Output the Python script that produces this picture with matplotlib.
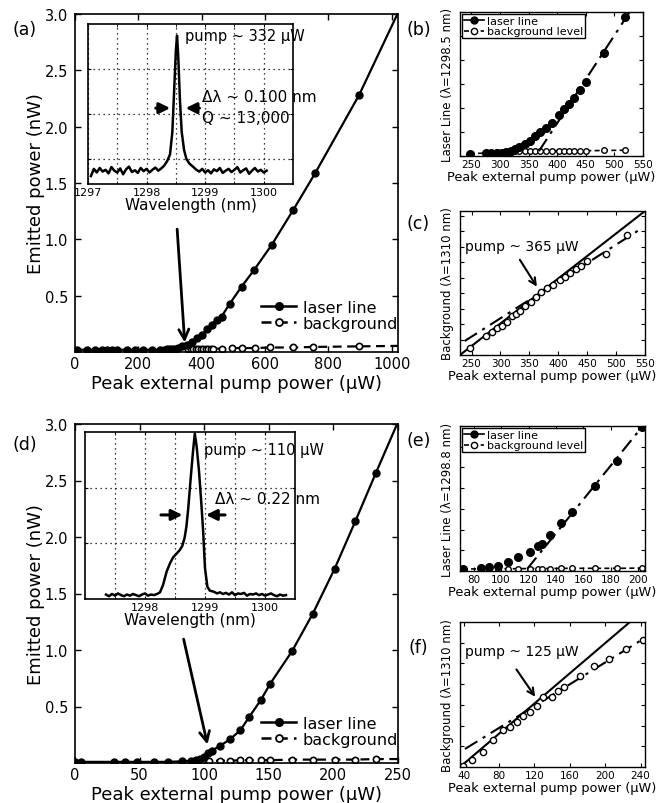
import matplotlib
matplotlib.use('Agg')
import matplotlib.pyplot as plt
from matplotlib.lines import Line2D

plt.rcParams['font.family'] = ['DejaVu Sans']

# ---------------- data ----------------
# (a) main
pump_a_laser = [5, 37, 63, 84, 100, 116, 132, 163, 189, 216, 242, 268, 280, 290, 300, 310, 318, 326,
                337, 353, 368, 384, 400, 416, 432, 447, 463, 489, 526, 566, 621, 689, 758, 897, 1030]
emit_a_laser = [0.02, 0.02, 0.02, 0.02, 0.02, 0.02, 0.02, 0.02, 0.02, 0.02, 0.02, 0.02, 0.02, 0.025,
                0.025, 0.03, 0.03, 0.035, 0.05, 0.065, 0.09, 0.12, 0.15, 0.2, 0.24, 0.285, 0.315,
                0.43, 0.58, 0.73, 0.95, 1.26, 1.585, 2.28, 3.07]
pump_a_bg = [358, 365, 373, 381, 389, 397, 405, 413, 421, 429, 437, 463, 495, 526, 568, 616, 689, 753, 897, 1040]
emit_a_bg = [0.025, 0.025, 0.025, 0.03, 0.03, 0.03, 0.03, 0.03, 0.03, 0.03, 0.03, 0.03, 0.035, 0.035,
             0.035, 0.04, 0.04, 0.045, 0.05, 0.055]

# (a) inset spectrum
wl_a = [1297.05, 1297.10, 1297.15, 1297.20, 1297.25, 1297.30, 1297.35, 1297.40, 1297.45, 1297.50,
        1297.55, 1297.60, 1297.65, 1297.70, 1297.75, 1297.80, 1297.85, 1297.90, 1297.95, 1298.00,
        1298.05, 1298.10, 1298.15, 1298.20, 1298.25, 1298.30, 1298.35, 1298.40, 1298.44, 1298.47,
        1298.50, 1298.52, 1298.54, 1298.57, 1298.60, 1298.64, 1298.68, 1298.73, 1298.80, 1298.85,
        1298.90, 1298.95, 1299.00, 1299.05, 1299.10, 1299.15, 1299.20, 1299.25, 1299.30, 1299.35,
        1299.40, 1299.45, 1299.50, 1299.55, 1299.60, 1299.65, 1299.70, 1299.75, 1299.80, 1299.85,
        1299.90, 1299.95, 1300.00, 1300.05]
spec_a = [0.62, 0.78, 0.70, 0.80, 0.72, 0.76, 0.68, 0.82, 0.74, 0.70, 0.79, 0.66, 0.77, 0.83, 0.71,
          0.75, 0.69, 0.80, 0.73, 0.78, 0.70, 0.76, 0.81, 0.74, 0.79, 0.85, 0.95, 1.10,
          1.6, 2.5, 3.4, 3.74, 3.3, 2.3, 1.6, 1.2, 1.0, 0.9,
          0.82, 0.76, 0.72, 0.78, 0.70, 0.75, 0.68, 0.77, 0.73, 0.80, 0.69, 0.74, 0.78, 0.71, 0.76,
          0.82, 0.70, 0.75, 0.79, 0.67, 0.74, 0.80, 0.72, 0.76, 0.70, 0.74]

# (b) / (c)
pump_bc = [247, 275, 285, 294, 303, 311, 320, 327, 334, 343, 352, 361, 370, 380, 391, 403, 412, 421,
           430, 440, 450, 482, 518]
laser_b = [0.08, 0.12, 0.12, 0.13, 0.14, 0.16, 0.2, 0.29, 0.36, 0.5, 0.64, 0.82, 0.99, 1.15, 1.38,
           1.72, 1.95, 2.15, 2.4, 2.75, 3.1, 4.29, 5.78]
bg_b = [0.1, 0.12, 0.14, 0.15, 0.16, 0.17, 0.18, 0.2, 0.2, 0.2, 0.21, 0.21, 0.21, 0.21, 0.22, 0.22,
        0.22, 0.22, 0.22, 0.22, 0.22, 0.23, 0.24]
fit_b_x = [368, 528]
fit_b_y = [0.2, 6.05]
bg_c = [0.45, 1.25, 1.5, 1.74, 1.89, 2.15, 2.5, 2.65, 2.86, 3.18, 3.42, 3.76, 4.08, 4.32, 4.5, 4.84,
        5.05, 5.27, 5.55, 5.76, 6.04, 6.5, 7.76]
fit_c_solid_x = [230, 550]
fit_c_solid_y = [0.0, 9.3]
fit_c_dd_x = [238, 541]
fit_c_dd_y = [0.9, 8.1]

# (d) main
pump_d_laser = [0, 5, 30, 39, 48, 61, 72, 83, 90, 94, 97, 100, 103, 106, 112, 120, 128, 135, 144, 151,
                168, 184, 201, 217, 233, 255]
emit_d_laser = [0.01, 0.01, 0.01, 0.01, 0.01, 0.01, 0.01, 0.015, 0.02, 0.025, 0.035, 0.05, 0.085, 0.11,
                0.15, 0.21, 0.29, 0.41, 0.56, 0.70, 0.99, 1.32, 1.72, 2.14, 2.57, 3.15]
pump_d_bg = [98, 104, 112, 120, 128, 135, 144, 151, 168, 184, 201, 217, 233, 262]
emit_d_bg = [0.02, 0.02, 0.02, 0.02, 0.025, 0.025, 0.025, 0.025, 0.03, 0.03, 0.03, 0.03, 0.035, 0.035]

# (d) inset spectrum
wl_d = [1297.35, 1297.40, 1297.45, 1297.50, 1297.55, 1297.60, 1297.65, 1297.70, 1297.75, 1297.80,
        1297.85, 1297.90, 1297.95, 1298.00, 1298.05, 1298.10, 1298.15, 1298.20,
        1298.25, 1298.30, 1298.36, 1298.42, 1298.47, 1298.53, 1298.58, 1298.62, 1298.66, 1298.69,
        1298.72, 1298.76, 1298.80, 1298.83, 1298.86, 1298.90, 1298.94, 1298.97, 1299.00, 1299.04,
        1299.08,
        1299.15, 1299.20, 1299.25, 1299.30, 1299.35, 1299.40, 1299.45, 1299.50, 1299.55, 1299.60,
        1299.65, 1299.70, 1299.75, 1299.80, 1299.85, 1299.90, 1299.95, 1300.00, 1300.05, 1300.10,
        1300.15, 1300.20, 1300.25, 1300.30, 1300.35]
spec_d = [0.08, 0.05, 0.09, 0.06, 0.10, 0.07, 0.05, 0.08, 0.06, 0.09, 0.07, 0.05, 0.08, 0.10, 0.06,
          0.08, 0.07, 0.09,
          0.12, 0.25, 0.49, 0.65, 0.75, 0.82, 0.88, 0.95, 1.10, 1.30, 1.62, 2.15, 2.65, 2.97, 2.75,
          2.3, 1.7, 1.2, 0.55, 0.22, 0.15,
          0.13, 0.10, 0.12, 0.09, 0.11, 0.08, 0.12, 0.07, 0.10, 0.09, 0.11, 0.06, 0.09, 0.08, 0.10,
          0.07, 0.09, 0.06, 0.08, 0.10, 0.07, 0.05, 0.08, 0.06, 0.07]

# (e)
pump_e = [72, 85, 91, 98, 105, 112, 121, 127, 130, 136, 144, 151.5, 168.5, 184.5, 202.5]
laser_e = [0.1, 0.13, 0.18, 0.26, 0.45, 0.66, 0.9, 1.22, 1.3, 1.74, 2.32, 2.87, 4.09, 5.33, 6.94]
bg_e = [0.1, 0.1, 0.1, 0.11, 0.11, 0.11, 0.12, 0.12, 0.12, 0.12, 0.13, 0.13, 0.13, 0.13, 0.14]
fit_e_x = [119, 204]
fit_e_y = [0.1, 7.05]

# (f)
pump_f = [39.7, 49, 61.6, 73.6, 85, 92.5, 100, 107.5, 115, 122.7, 130, 139.6, 147, 153.5, 171.6,
          187.7, 204.7, 223.6, 243]
bg_f = [0.06, 0.35, 0.71, 1.32, 1.8, 1.92, 2.19, 2.48, 2.67, 2.93, 3.37, 3.37, 3.69, 3.88, 4.38,
        4.86, 5.22, 5.7, 6.15]
fit_f_solid_x = [36, 228]
fit_f_solid_y = [0.0, 7.0]
fit_f_dd_x = [41.6, 243]
fit_f_dd_y = [0.87, 6.18]

# ---------------- layout ----------------
W, H = 665, 804


def rect(l, t, r, b):
    return [l / W, 1 - b / H, (r - l) / W, (b - t) / H]


fig = plt.figure(figsize=(W / 100, H / 100), dpi=100)
fig.patch.set_facecolor('white')

DASH = (0, (4, 2.5))
DASHDOT = (0, (7, 3, 1.5, 3))
XLAB = 'Peak external pump power (\u03bcW)'


def style_main(ax):
    for s in ax.spines.values():
        s.set_linewidth(1.2)
    ax.tick_params(direction='in', length=4, width=1, top=True, right=True, labelsize=10.5)
    ax.tick_params(axis='y', pad=5)
    ax.tick_params(axis='x', pad=3)


def style_small(ax):
    for s in ax.spines.values():
        s.set_linewidth(1.0)
    ax.tick_params(direction='in', length=3, width=0.8, top=True, right=True, labelsize=7.5,
                   labelleft=False, pad=2)


def main_legend(ax, yfrac):
    h = [Line2D([], [], color='k', lw=1.8, marker='o', ms=5.5),
         Line2D([], [], color='k', lw=1.8, ls=DASH, marker='o', ms=5, mfc='white', mew=1.3)]
    ax.legend(h, ['laser line', 'background'], loc='center right', bbox_to_anchor=(1.0, yfrac),
              frameon=False, fontsize=11.5, handlelength=2.2, handletextpad=0.4,
              labelspacing=0.05, borderpad=0, borderaxespad=0)


def small_legend(ax):
    h = [Line2D([], [], color='k', lw=1.2, marker='o', ms=5),
         Line2D([], [], color='k', lw=1.2, ls=(0, (3, 2)), marker='o', ms=4.5, mfc='white', mew=1)]
    leg = ax.legend(h, ['laser line', 'background level'], loc='upper left', fontsize=8,
                    frameon=True, fancybox=False, framealpha=1, edgecolor='k', borderpad=0.15,
                    handlelength=1.8, handletextpad=0.3, labelspacing=0.05, borderaxespad=0.2)
    leg.get_frame().set_linewidth(1.0)


def inset_style(axi, xt_major, xt_labels):
    axi.set_xlim(1297, 1300.5)
    axi.set_xticks(xt_major)
    axi.set_xticklabels(xt_labels)
    axi.set_xticks([1297.5, 1298.5, 1299.5], minor=True)
    axi.grid(True, which='both', axis='x', ls=(0, (1, 3)), color='k', lw=0.9)
    axi.grid(True, which='major', axis='y', ls=(0, (1, 3)), color='k', lw=0.9)
    axi.tick_params(which='both', direction='in', length=2, labelsize=8, pad=2, labelleft=False,
                    top=True, right=True)
    for s in axi.spines.values():
        s.set_linewidth(1.2)
    axi.set_xlabel('Wavelength (nm)', fontsize=11, labelpad=0)


# ===== (a) =====
ax = fig.add_axes(rect(75, 15, 398, 353))
ax.plot(pump_a_bg, emit_a_bg, color='k', lw=1.6, ls=DASH, marker='o', ms=4.5, mfc='white', mew=1.2,
        zorder=2)
ax.plot(pump_a_laser, emit_a_laser, color='k', lw=1.6, marker='o', ms=5, zorder=3)
ax.set_xlim(0, 1020)
ax.set_ylim(0, 3)
ax.set_xticks([0, 200, 400, 600, 800, 1000])
ax.set_yticks([0.5, 1.0, 1.5, 2.0, 2.5, 3.0])
ax.set_yticklabels(['0.5', '1.0', '1.5', '2.0', '2.5', '3.0'])
style_main(ax)
ax.set_xlabel(XLAB, fontsize=13, labelpad=2)
ax.set_ylabel('Emitted power (nW)', fontsize=13, labelpad=0)
main_legend(ax, 0.109)
ax.annotate('', xy=(347, 0.06), xytext=(322, 1.115),
            arrowprops=dict(arrowstyle='->', lw=2, color='k', mutation_scale=18))

axi = fig.add_axes(rect(88, 25, 293, 185))
axi.plot(wl_a, spec_a, color='k', lw=1.8)
axi.set_ylim(0.444, 4.0)
axi.set_yticks([1, 2, 3])
inset_style(axi, [1297, 1298, 1299, 1300], ['1297', '1298', '1299', '1300'])
axi.text(1298.66, 3.75, 'pump ~ 332 \u03bcW', fontsize=10.5, ha='left', va='center')
axi.text(1298.95, 2.38, '\u0394\u03bb ~ 0.100 nm', fontsize=11, ha='left', va='center')
axi.text(1298.95, 1.93, 'Q ~ 13,000', fontsize=11, ha='left', va='center')
axi.annotate('', xy=(1298.45, 2.13), xytext=(1298.11, 2.13),
             arrowprops=dict(arrowstyle='-|>', lw=2.2, color='k', mutation_scale=16))
axi.annotate('', xy=(1298.62, 2.13), xytext=(1298.95, 2.13),
             arrowprops=dict(arrowstyle='-|>', lw=2.2, color='k', mutation_scale=16))

# ===== (b) =====
axb = fig.add_axes(rect(460, 13, 643, 157))
axb.plot(pump_bc, bg_b, color='k', lw=1.2, ls=(0, (3, 2)), marker='o', ms=4, mfc='white', mew=1,
         zorder=2)
axb.plot(pump_bc, laser_b, 'o', color='k', ms=5.5, zorder=3)
axb.plot(fit_b_x, fit_b_y, color='k', lw=1.5, ls=DASHDOT, zorder=4)
axb.set_xlim(230, 550)
axb.set_ylim(0, 6)
axb.set_xticks([250, 300, 350, 400, 450, 500, 550])
axb.set_yticks([0, 1, 2, 3, 4, 5, 6])
style_small(axb)
axb.set_xlabel(XLAB, fontsize=9.3, labelpad=1)
axb.set_ylabel('Laser Line (\u03bb=1298.5 nm)', fontsize=8.5, labelpad=4)
small_legend(axb)

# ===== (c) =====
axc = fig.add_axes(rect(460, 212, 645, 356))
axc.plot(fit_c_solid_x, fit_c_solid_y, color='k', lw=1.5)
axc.plot(fit_c_dd_x, fit_c_dd_y, color='k', lw=1.5, ls=DASHDOT)
axc.plot(pump_bc, bg_c, 'o', color='k', ms=4.5, mfc='white', mew=1)
axc.set_xlim(230, 550)
axc.set_ylim(0, 9.3)
axc.set_xticks([250, 300, 350, 400, 450, 500, 550])
axc.set_yticks([1, 2, 3, 4, 5, 6, 7, 8, 9])
style_small(axc)
axc.set_xlabel(XLAB, fontsize=9.3, labelpad=1)
axc.set_ylabel('Background (\u03bb=1310 nm)', fontsize=8.5, labelpad=4)
axc.text(238.6, 7.03, 'pump ~ 365 \u03bcW', fontsize=10, ha='left', va='center')
axc.annotate('', xy=(365.5, 4.26), xytext=(331, 6.3),
             arrowprops=dict(arrowstyle='->', lw=1.5, color='k', mutation_scale=12))

# ===== (d) =====
axd = fig.add_axes(rect(75, 425, 398, 764))
axd.plot(pump_d_bg, emit_d_bg, color='k', lw=1.6, ls=DASH, marker='o', ms=4.5, mfc='white', mew=1.2,
         zorder=2)
axd.plot(pump_d_laser, emit_d_laser, color='k', lw=1.6, marker='o', ms=5, zorder=3)
axd.set_xlim(0, 250)
axd.set_ylim(0, 3)
axd.set_xticks([0, 50, 100, 150, 200, 250])
axd.set_yticks([0.5, 1.0, 1.5, 2.0, 2.5, 3.0])
axd.set_yticklabels(['0.5', '1.0', '1.5', '2.0', '2.5', '3.0'])
style_main(axd)
axd.set_xlabel(XLAB, fontsize=13, labelpad=2)
axd.set_ylabel('Emitted power (nW)', fontsize=13, labelpad=0)
main_legend(axd, 0.094)
axd.annotate('', xy=(103, 0.14), xytext=(83.6, 1.12),
             arrowprops=dict(arrowstyle='->', lw=2, color='k', mutation_scale=18))

axdi = fig.add_axes(rect(85, 433, 295, 600))
axdi.plot(wl_d, spec_d, color='k', lw=1.8)
axdi.set_ylim(0, 3)
axdi.set_yticks([1, 2])
inset_style(axdi, [1298, 1299, 1300], ['1298', '1299', '1300'])
axdi.text(1298.98, 2.69, 'pump ~ 110 \u03bcW', fontsize=10.5, ha='left', va='center')
axdi.text(1299.17, 1.80, '\u0394\u03bb ~ 0.22 nm', fontsize=11, ha='left', va='center')
axdi.annotate('', xy=(1298.67, 1.51), xytext=(1298.22, 1.51),
              arrowprops=dict(arrowstyle='-|>', lw=2.2, color='k', mutation_scale=16))
axdi.annotate('', xy=(1298.97, 1.51), xytext=(1299.38, 1.51),
              arrowprops=dict(arrowstyle='-|>', lw=2.2, color='k', mutation_scale=16))

# ===== (e) =====
axe = fig.add_axes(rect(460, 427, 645, 572))
axe.plot(pump_e, bg_e, color='k', lw=1.2, ls=(0, (3, 2)), marker='o', ms=4, mfc='white', mew=1,
         zorder=2)
axe.plot(pump_e, laser_e, 'o', color='k', ms=5.5, zorder=3)
axe.plot(fit_e_x, fit_e_y, color='k', lw=1.5, ls=DASHDOT, zorder=4)
axe.set_xlim(70, 205)
axe.set_ylim(0, 7)
axe.set_xticks([80, 100, 120, 140, 160, 180, 200])
axe.set_yticks([0, 1, 2, 3, 4, 5, 6, 7])
style_small(axe)
axe.set_xlabel(XLAB, fontsize=9.3, labelpad=1)
axe.set_ylabel('Laser Line (\u03bb=1298.8 nm)', fontsize=8.5, labelpad=4)
small_legend(axe)

# ===== (f) =====
axf = fig.add_axes(rect(460, 623, 645, 768))
axf.plot(fit_f_solid_x, fit_f_solid_y, color='k', lw=1.5)
axf.plot(fit_f_dd_x, fit_f_dd_y, color='k', lw=1.5, ls=DASHDOT)
axf.plot(pump_f, bg_f, 'o', color='k', ms=4.5, mfc='white', mew=1)
axf.set_xlim(36, 245)
axf.set_ylim(0, 7)
axf.set_xticks([40, 80, 120, 160, 200, 240])
axf.set_yticks([1, 2, 3, 4, 5, 6])
style_small(axf)
axf.set_xlabel(XLAB, fontsize=9.3, labelpad=1)
axf.set_ylabel('Background (\u03bb=1310 nm)', fontsize=8.5, labelpad=4)
axf.text(41.6, 5.62, 'pump ~ 125 \u03bcW', fontsize=10, ha='left', va='center')
axf.annotate('', xy=(122.7, 3.28), xytext=(98, 4.82),
             arrowprops=dict(arrowstyle='->', lw=1.5, color='k', mutation_scale=12))

# panel labels
for lab, (px, py) in {'(a)': (25, 30), '(b)': (419, 30), '(c)': (418, 224),
                      '(d)': (25, 445), '(e)': (419, 441), '(f)': (418, 648)}.items():
    fig.text(px / W, 1 - py / H, lab, fontsize=12.5, ha='center', va='center')

fig.savefig('out.png', dpi=100, facecolor='white')
